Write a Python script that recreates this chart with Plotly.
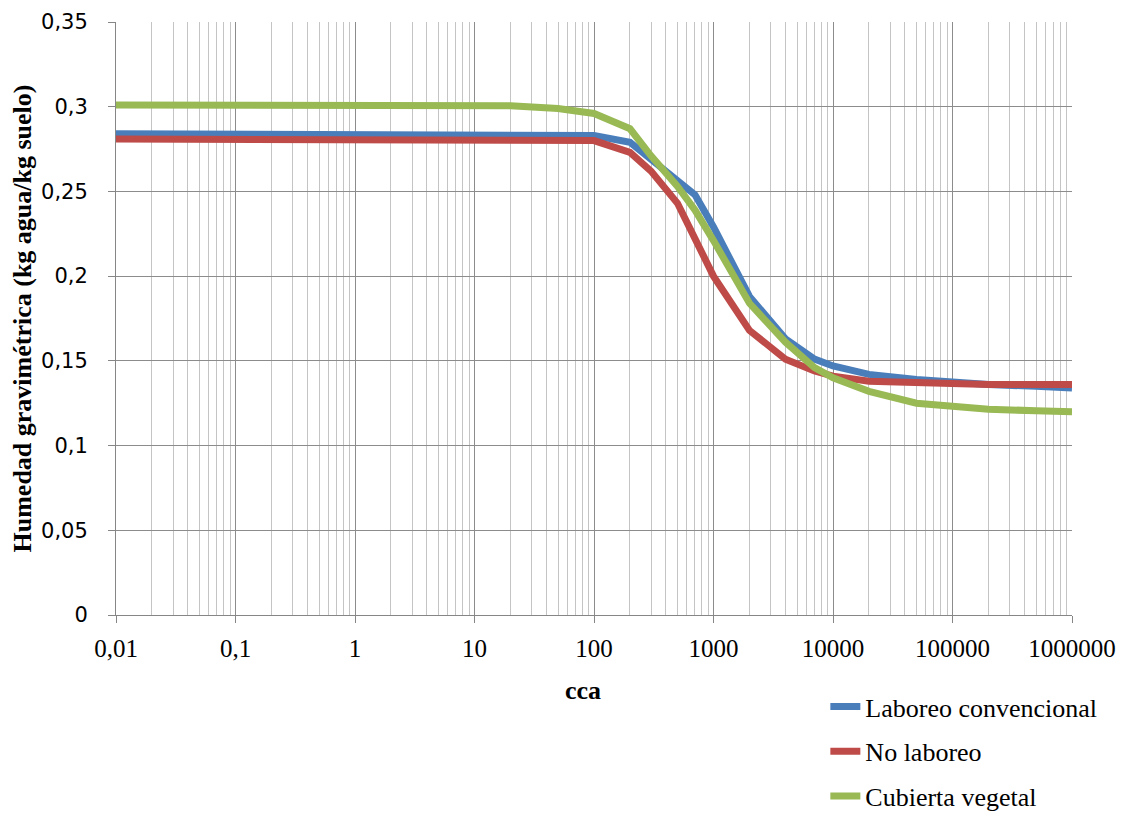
import plotly.graph_objects as go

cca = [0.01, 0.1, 1, 10, 20, 50, 100, 200, 300, 500, 700, 1000, 2000, 4000,
       7000, 10000, 20000, 50000, 100000, 200000, 500000, 1000000]

laboreo_conv = [0.284, 0.284, 0.284, 0.284, 0.284, 0.2835, 0.283, 0.279, 0.269,
                0.257, 0.248, 0.229, 0.188, 0.163, 0.151, 0.147, 0.142, 0.139,
                0.137, 0.136, 0.135, 0.134]
no_laboreo = [0.281, 0.281, 0.281, 0.281, 0.281, 0.2805, 0.280, 0.273, 0.262,
              0.243, 0.222, 0.200, 0.168, 0.151, 0.144, 0.141, 0.138, 0.137,
              0.136, 0.136, 0.136, 0.136]
cubierta = [0.301, 0.301, 0.301, 0.301, 0.3005, 0.299, 0.296, 0.287, 0.271,
            0.253, 0.239, 0.221, 0.184, 0.161, 0.146, 0.140, 0.132, 0.125,
            0.123, 0.1215, 0.1205, 0.120]

series = [
    ("Laboreo convencional", laboreo_conv, "#4a7ebb"),
    ("No laboreo", no_laboreo, "#be4b48"),
    ("Cubierta vegetal", cubierta, "#98b954"),
]

x_tickvals = [0.01, 0.1, 1, 10, 100, 1000, 10000, 100000, 1000000]
x_ticktext = ["0,01", "0,1", "1", "10", "100", "1000", "10000", "100000", "1000000"]
y_tickvals = [0, 0.05, 0.1, 0.15, 0.2, 0.25, 0.3, 0.35]
y_ticktext = ["0", "0,05", "0,1", "0,15", "0,2", "0,25", "0,3", "0,35"]
x_title = "cca"
y_title = "Humedad gravimétrica (kg agua/kg suelo)"

fig = go.Figure()
for i, (name, vals, color) in enumerate(series):
    fig.add_trace(go.Scatter(
        x=cca, y=vals, mode="lines", name=name,
        line=dict(color=color, width=7),
        legendgroup=f"g{i}",
    ))

serif = "Liberation Serif, Times New Roman, serif"
ytick_font = dict(family="DejaVu Sans, Verdana, sans-serif", size=21, color="black")
xtick_font = dict(family=serif, size=25, color="black")
title_font = dict(family=serif, size=26, color="black")

fig.update_layout(
    width=1119, height=819,
    margin=dict(l=108, r=55, t=14, b=212),
    plot_bgcolor="white", paper_bgcolor="white",
    showlegend=True,
    legend=dict(
        x=0.742, xanchor="left", y=0.1758, yanchor="top", yref="container",
        font=dict(family=serif, size=26, color="black"),
        traceorder="grouped", tracegroupgap=8,
        bgcolor="rgba(0,0,0,0)",
    ),
    xaxis=dict(
        type="log", range=[-2, 6], automargin=False,
        tickvals=x_tickvals, ticktext=x_ticktext,
        tickfont=xtick_font, ticklabelstandoff=4,
        showgrid=True, gridcolor="#8c8c8c", gridwidth=1,
        minor=dict(dtick="D1", showgrid=True, gridcolor="#c4c4c4", gridwidth=1,
                   ticks=""),
        showline=True, linecolor="#868686", linewidth=1,
        ticks="outside", ticklen=7, tickcolor="#868686",
        zeroline=False,
    ),
    yaxis=dict(
        range=[0, 0.35], automargin=False,
        tickvals=y_tickvals, ticktext=y_ticktext,
        tickfont=ytick_font, ticklabelstandoff=16,
        showgrid=True, gridcolor="#8c8c8c", gridwidth=1,
        showline=True, linecolor="#868686", linewidth=1,
        ticks="outside", ticklen=7, tickcolor="#868686",
        zeroline=False,
    ),
    annotations=[
        dict(text=f"<b>{x_title}</b>", xref="paper", yref="paper", x=0.5, y=0,
             xanchor="center", yanchor="middle", xshift=-11, yshift=-75,
             showarrow=False, font=title_font),
        dict(text=f"<b>{y_title}</b>", xref="paper", yref="paper", x=0, y=0.5,
             xanchor="center", yanchor="middle", xshift=-94, textangle=-90,
             showarrow=False, font=title_font),
    ],
)

fig.write_html("out.html")
